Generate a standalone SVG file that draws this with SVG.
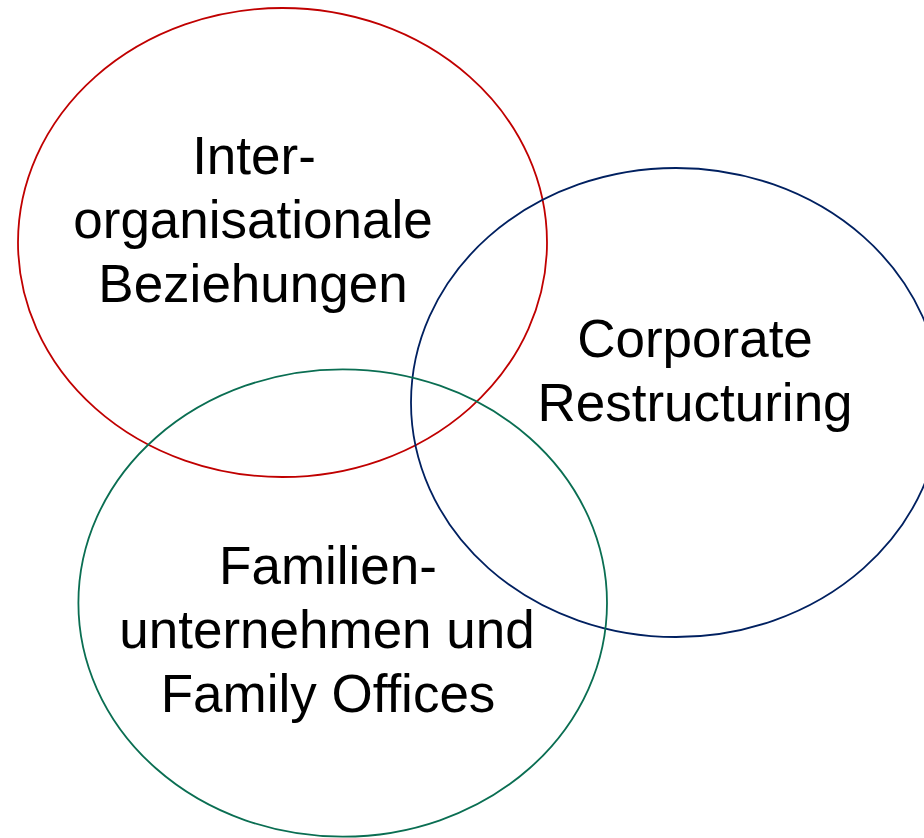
<svg xmlns="http://www.w3.org/2000/svg" width="924" height="838" viewBox="0 0 924 838">
  <style>
    .ring { fill: none; stroke-width: 1.8; }
    .label { font-family: "Liberation Sans", Arial, sans-serif; font-size: 53px; fill: #000; text-anchor: middle; }
  </style>
  <rect width="924" height="838" fill="#fff"/>
  <g id="inter-organisationale">
    <ellipse class="ring" cx="282.5" cy="242.5" rx="264.5" ry="234.5" stroke="#C00000"/>
    <text class="label" x="254" y="174">Inter-</text>
    <text class="label" x="253" y="238">organisationale</text>
    <text class="label" x="253" y="302">Beziehungen</text>
  </g>
  <g id="corporate-restructuring">
    <ellipse class="ring" cx="676" cy="402.5" rx="265" ry="234.5" stroke="#002060"/>
    <text class="label" x="695" y="357">Corporate</text>
    <text class="label" x="695" y="421">Restructuring</text>
  </g>
  <g id="familienunternehmen">
    <ellipse class="ring" cx="342.7" cy="603" rx="264.3" ry="233.7" stroke="#0A6E52"/>
    <text class="label" x="328" y="584">Familien-</text>
    <text class="label" x="327" y="648">unternehmen und</text>
    <text class="label" x="328" y="712">Family Offices</text>
  </g>
  <g id="connectors"/>
</svg>
